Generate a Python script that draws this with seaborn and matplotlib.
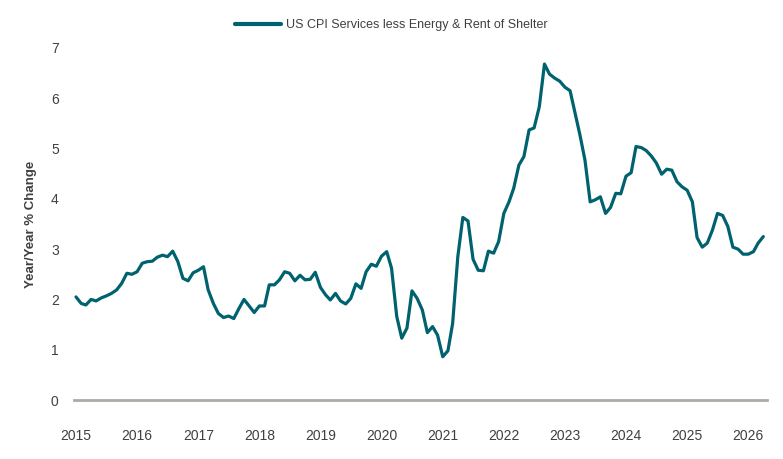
"""US CPI services less energy & rent of shelter, year/year % change."""

import matplotlib

matplotlib.use("Agg")
import matplotlib.dates as mdates
import matplotlib.pyplot as plt
import pandas as pd
import seaborn as sns

SERIES_LABEL = "US CPI Services less Energy & Rent of Shelter"
START = "2015-01-01"
YEARS = list(range(2015, 2027))

# monthly y/y % change, Jan 2015 onwards
VALUES = [
    2.05, 1.92, 1.89, 2.00, 1.97, 2.03, 2.07, 2.12, 2.19, 2.32, 2.52, 2.50,
    2.55, 2.72, 2.75, 2.76, 2.84, 2.88, 2.85, 2.96, 2.75, 2.42, 2.37, 2.53,
    2.58, 2.65, 2.19, 1.92, 1.72, 1.64, 1.67, 1.62, 1.82, 2.00, 1.87, 1.74,
    1.87, 1.87, 2.29, 2.29, 2.39, 2.55, 2.52, 2.37, 2.48, 2.39, 2.40, 2.54,
    2.24, 2.09, 1.99, 2.12, 1.97, 1.91, 2.02, 2.31, 2.22, 2.55, 2.70, 2.66,
    2.86, 2.95, 2.62, 1.66, 1.23, 1.43, 2.17, 2.02, 1.79, 1.34, 1.46, 1.29,
    0.86, 0.98, 1.52, 2.85, 3.63, 3.56, 2.80, 2.58, 2.57, 2.96, 2.92, 3.15,
    3.71, 3.94, 4.21, 4.67, 4.84, 5.37, 5.41, 5.83, 6.68, 6.48, 6.40, 6.34,
    6.22, 6.15, 5.73, 5.27, 4.77, 3.94, 3.98, 4.04, 3.71, 3.83, 4.11, 4.10,
    4.45, 4.52, 5.04, 5.02, 4.96, 4.85, 4.71, 4.49, 4.59, 4.57, 4.34, 4.24,
    4.17, 3.94, 3.23, 3.04, 3.12, 3.38, 3.71, 3.67, 3.45, 3.04, 3.00, 2.90,
    2.90, 2.95, 3.12, 3.25,
]

LINE_COLOR = "#00626f"
AXIS_COLOR = "#a9ada5"
TEXT_COLOR = "#404040"


def main() -> None:
    sns.set_theme(style="white")
    plt.rcParams["font.family"] = ["Liberation Sans Narrow", "Liberation Sans", "DejaVu Sans"]

    df = pd.DataFrame(
        {
            "date": pd.date_range(START, periods=len(VALUES), freq="MS"),
            "value": VALUES,
            "series": SERIES_LABEL,
        }
    )

    fig = plt.figure(figsize=(7.83, 4.59), dpi=100)
    ax = fig.add_axes([0.0945, 0.1285, 0.8855, 0.767])
    sns.lineplot(
        data=df, x="date", y="value", hue="series",
        palette=[LINE_COLOR], linewidth=2.3, ax=ax,
    )

    ax.set_ylim(0, 7)
    ax.set_yticks(range(0, 8))
    ax.set_xlim(pd.Timestamp("2014-12-20"), pd.Timestamp("2026-04-25"))
    ax.set_xticks([pd.Timestamp(f"{y}-01-01") for y in YEARS])
    ax.xaxis.set_major_formatter(mdates.DateFormatter("%Y"))

    for side in ("top", "right", "left"):
        ax.spines[side].set_visible(False)
    ax.spines["bottom"].set_color(AXIS_COLOR)
    ax.spines["bottom"].set_linewidth(2)
    ax.tick_params(axis="x", length=0, pad=21, labelsize=10, labelcolor=TEXT_COLOR)
    ax.tick_params(axis="y", length=0, pad=11, labelsize=10, labelcolor=TEXT_COLOR)
    ax.grid(False)

    ax.set_xlabel("")
    ax.set_ylabel("Year/Year % Change", fontsize=9.5, fontweight="bold",
                  color=TEXT_COLOR, labelpad=10)

    handles, labels = ax.get_legend_handles_labels()
    ax.legend(
        handles, labels, loc="center", bbox_to_anchor=(0.5, 0.945),
        bbox_transform=fig.transFigure, frameon=False, fontsize=9,
        handlelength=3.7, handletextpad=0.4, labelcolor=TEXT_COLOR,
    )
    for line in ax.get_legend().get_lines():
        line.set_linewidth(3)

    fig.savefig("out.png", dpi=100)
    plt.close(fig)


if __name__ == "__main__":
    main()
